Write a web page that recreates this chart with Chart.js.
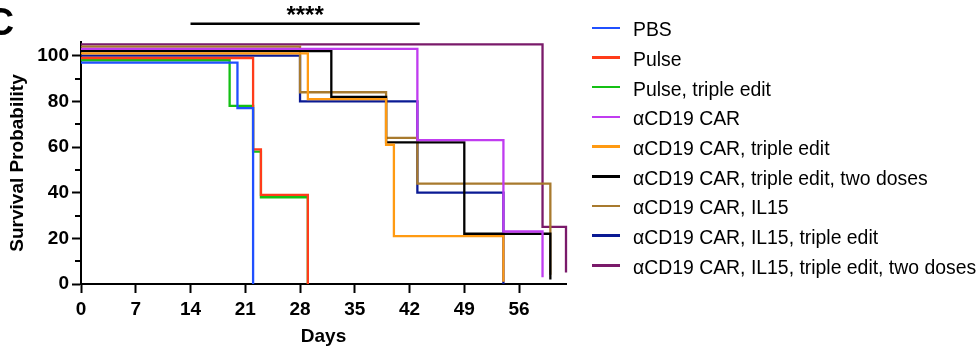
<!DOCTYPE html>
<html>
<head>
<meta charset="utf-8">
<script src="https://cdn.jsdelivr.net/npm/chart.js@4"></script>
<style>
  body { margin: 0; background: #fff; }
  #wrap { position: relative; width: 978px; height: 352px; overflow: hidden; font-family: 'Liberation Sans', Arial, sans-serif; color: #000; }
  #km { position: absolute; left: 0; top: 0; }
  #panel { position: absolute; left: -14px; top: 2px; font-size: 39px; font-weight: bold; line-height: 39px; }
  #legend { position: absolute; left: 592px; top: 14.5px; }
  .row { height: 29.7px; display: flex; align-items: center; font-size: 19.4px; line-height: 22px; white-space: nowrap; }
  .swatch { width: 28px; height: 2.5px; margin-right: 13px; margin-top: -3px; flex: none; }
</style>
</head>
<body>
<div id="wrap">
  <canvas id="km" width="978" height="352"></canvas>
  <div id="panel">C</div>
  <div id="legend"></div>
</div>
<script>
// 그룹 이름과 색
const seriesNames = [
  'PBS',
  'Pulse',
  'Pulse, triple edit',
  'αCD19 CAR',
  'αCD19 CAR, triple edit',
  'αCD19 CAR, triple edit, two doses',
  'αCD19 CAR, IL15',
  'αCD19 CAR, IL15, triple edit',
  'αCD19 CAR, IL15, triple edit, two doses'
];
const seriesColors = ['#2050ff', '#ff3c1a', '#14c014', '#c03cf0', '#ff9a12', '#000000', '#a87a2e', '#0a1a94', '#7a1a6a'];

// 생존 곡선 (그림에서 읽은 값, 곡선마다 조금씩 위아래로 어긋나 있음)
const pbsDays = [0, 20, 22];
const pbsSurv = [97, 77, 0];
const pulseDays = [0, 22, 23, 29];
const pulseSurv = [99, 59, 39, 0];
const pulseTeDays = [0, 19, 22, 23, 29];
const pulseTeSurv = [98, 78, 58, 38, 0];
const carDays = [0, 43, 54, 59];
const carSurv = [103, 63, 23, 3];
const carTeDays = [0, 29, 39, 40, 54];
const carTeSurv = [101, 81, 61, 21, 1];
const carTe2Days = [0, 32, 39, 49, 60];
const carTe2Surv = [102, 82, 62, 22, 2];
const il15Days = [0, 28, 39, 43, 60];
const il15Surv = [104, 84, 64, 44, 4];
const il15TeDays = [0, 28, 43, 54];
const il15TeSurv = [100, 80, 40, 0];
const il15Te2Days = [0, 59, 62];
const il15Te2Surv = [105, 25, 5];

const allDays = [pbsDays, pulseDays, pulseTeDays, carDays, carTeDays, carTe2Days, il15Days, il15TeDays, il15Te2Days];
const allSurv = [pbsSurv, pulseSurv, pulseTeSurv, carSurv, carTeSurv, carTe2Surv, il15Surv, il15TeSurv, il15Te2Surv];

// 축 눈금
const xTickValues = [0, 7, 14, 21, 28, 35, 42, 49, 56];
const yTickValues = [0, 20, 40, 60, 80, 100];
const yMinorTicks = [10, 30, 50, 70, 90];

// 유의성 표시
const sigDays = [14, 43.3];
const sigLevel = 114;
const sigLabel = '****';

const FONT = "'Liberation Sans', Arial, sans-serif";

// 범례는 HTML로
const legendEl = document.getElementById('legend');
seriesNames.forEach((name, i) => {
  const row = document.createElement('div');
  row.className = 'row';
  const sw = document.createElement('span');
  sw.className = 'swatch';
  sw.style.background = seriesColors[i];
  const txt = document.createElement('span');
  txt.textContent = name;
  row.appendChild(sw);
  row.appendChild(txt);
  legendEl.appendChild(row);
});

// 작은 눈금, 유의성 막대
const extras = {
  id: 'extras',
  afterDraw(chart) {
    const { ctx, chartArea, scales: { x, y } } = chart;
    ctx.save();
    ctx.strokeStyle = '#000';
    ctx.fillStyle = '#000';
    ctx.lineWidth = 2;
    yMinorTicks.forEach(v => {
      const py = Math.round(y.getPixelForValue(v));
      ctx.beginPath();
      ctx.moveTo(chartArea.left - 6, py);
      ctx.lineTo(chartArea.left, py);
      ctx.stroke();
    });
    const x1 = x.getPixelForValue(sigDays[0]);
    const x2 = x.getPixelForValue(sigDays[1]);
    const py = y.getPixelForValue(sigLevel);
    ctx.lineWidth = 2.5;
    ctx.beginPath();
    ctx.moveTo(x1, py);
    ctx.lineTo(x2, py);
    ctx.stroke();
    ctx.font = 'bold 24px ' + FONT;
    ctx.textAlign = 'center';
    ctx.textBaseline = 'alphabetic';
    ctx.fillText(sigLabel, (x1 + x2) / 2, py - 1);
    ctx.restore();
  }
};

// 계단형 (수평 먼저, 그 다음 수직)
const datasets = seriesNames.map((name, i) => ({
  label: name,
  data: allDays[i].map((d, j) => ({ x: d, y: allSurv[i][j] })),
  borderColor: seriesColors[i],
  backgroundColor: seriesColors[i],
  borderWidth: 2.3,
  stepped: 'before',
  pointRadius: 0,
  fill: false,
  clip: 4  // 오른쪽 끝 수직선이 잘리지 않게
}));

const axisCommon = {
  border: { color: '#000', width: 2 },
  grid: { drawOnChartArea: false, drawTicks: true, tickLength: 9, tickWidth: 2, tickColor: '#000' }
};

new Chart(document.getElementById('km'), {
  type: 'line',
  data: { datasets: datasets },
  options: {
    responsive: false,
    animation: false,
    devicePixelRatio: 1,
    layout: { padding: { top: 42, right: 412, left: 0, bottom: 0 } },
    plugins: { legend: { display: false }, tooltip: { enabled: false } },
    scales: {
      x: {
        ...axisCommon,
        type: 'linear',
        min: 0,
        max: 62,
        afterBuildTicks: s => { s.ticks = xTickValues.map(v => ({ value: v })); },
        afterFit: s => { s.height = 68; },
        ticks: { color: '#000', font: { family: FONT, size: 19, weight: 'bold' }, padding: 5, maxRotation: 0, autoSkip: false },
        title: { display: true, text: 'Days', color: '#000', font: { family: FONT, size: 19, weight: 'bold' }, padding: { top: 0, bottom: 4 } }
      },
      y: {
        ...axisCommon,
        type: 'linear',
        min: 0,
        max: 106,
        afterBuildTicks: s => { s.ticks = yTickValues.map(v => ({ value: v })); },
        afterFit: s => { s.width = 81; },
        ticks: { color: '#000', font: { family: FONT, size: 19, weight: 'bold' }, padding: 3 },
        title: { display: true, text: 'Survival Probability', color: '#000', font: { family: FONT, size: 19, weight: 'bold' }, padding: { top: 6.5, bottom: 0 } }
      }
    }
  },
  plugins: [extras]
});
</script>
</body>
</html>
